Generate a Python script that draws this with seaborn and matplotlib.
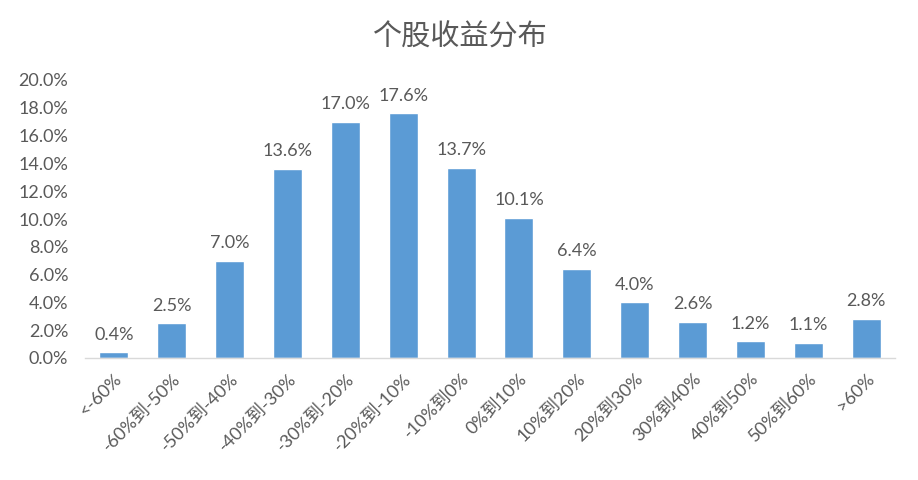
import matplotlib
matplotlib.use('Agg')
import matplotlib.pyplot as plt
import seaborn as sns
import pandas as pd

categories = ['<-60%', '-60%到-50%', '-50%到-40%', '-40%到-30%', '-30%到-20%',
              '-20%到-10%', '-10%到0%', '0%到10%', '10%到20%', '20%到30%',
              '30%到40%', '40%到50%', '50%到60%', '>60%']
values = [0.4, 2.5, 7.0, 13.6, 17.0, 17.6, 13.7, 10.1, 6.4, 4.0, 2.6, 1.2, 1.1, 2.8]

df = pd.DataFrame({'range': categories, 'pct': values})

sns.set_style('white')
plt.rcParams['font.family'] = ['Lato', 'Noto Sans CJK SC', 'DejaVu Sans']
grey = '#595959'

fig = plt.figure(figsize=(9.18, 4.8), dpi=100)
ax = fig.add_axes([85/918, 1-358/480, 810/918, 278/480])

sns.barplot(x='range', y='pct', data=df, color='#5B9BD5', width=0.5,
            saturation=1, ax=ax)

for i, v in enumerate(values):
    ax.text(i, v + 0.7, f'{v:.1f}%', ha='center', va='bottom',
            fontsize=13, color=grey)

ax.set_ylim(0, 20)
ax.set_xlim(-0.5, len(categories) - 0.5)
ax.set_yticks(range(0, 21, 2))
ax.set_yticklabels([f'{t:.1f}%' for t in range(0, 21, 2)], fontsize=13, color=grey)
ax.set_xticks(range(len(categories)))
ax.set_xticklabels(categories, rotation=45, ha='right', rotation_mode='anchor',
                   fontsize=13, color=grey)
ax.tick_params(axis='x', length=0, pad=9)
ax.tick_params(axis='y', length=0, pad=12)
ax.set_xlabel('')
ax.set_ylabel('')

for s in ['top', 'right', 'left']:
    ax.spines[s].set_visible(False)
ax.spines['bottom'].set_color('#D9D9D9')
ax.spines['bottom'].set_linewidth(1)

fig.text(0.5, 1 - 37/480, '个股收益分布', ha='center', va='center',
         fontsize=21, color=grey)

fig.savefig('out.png', dpi=100)
